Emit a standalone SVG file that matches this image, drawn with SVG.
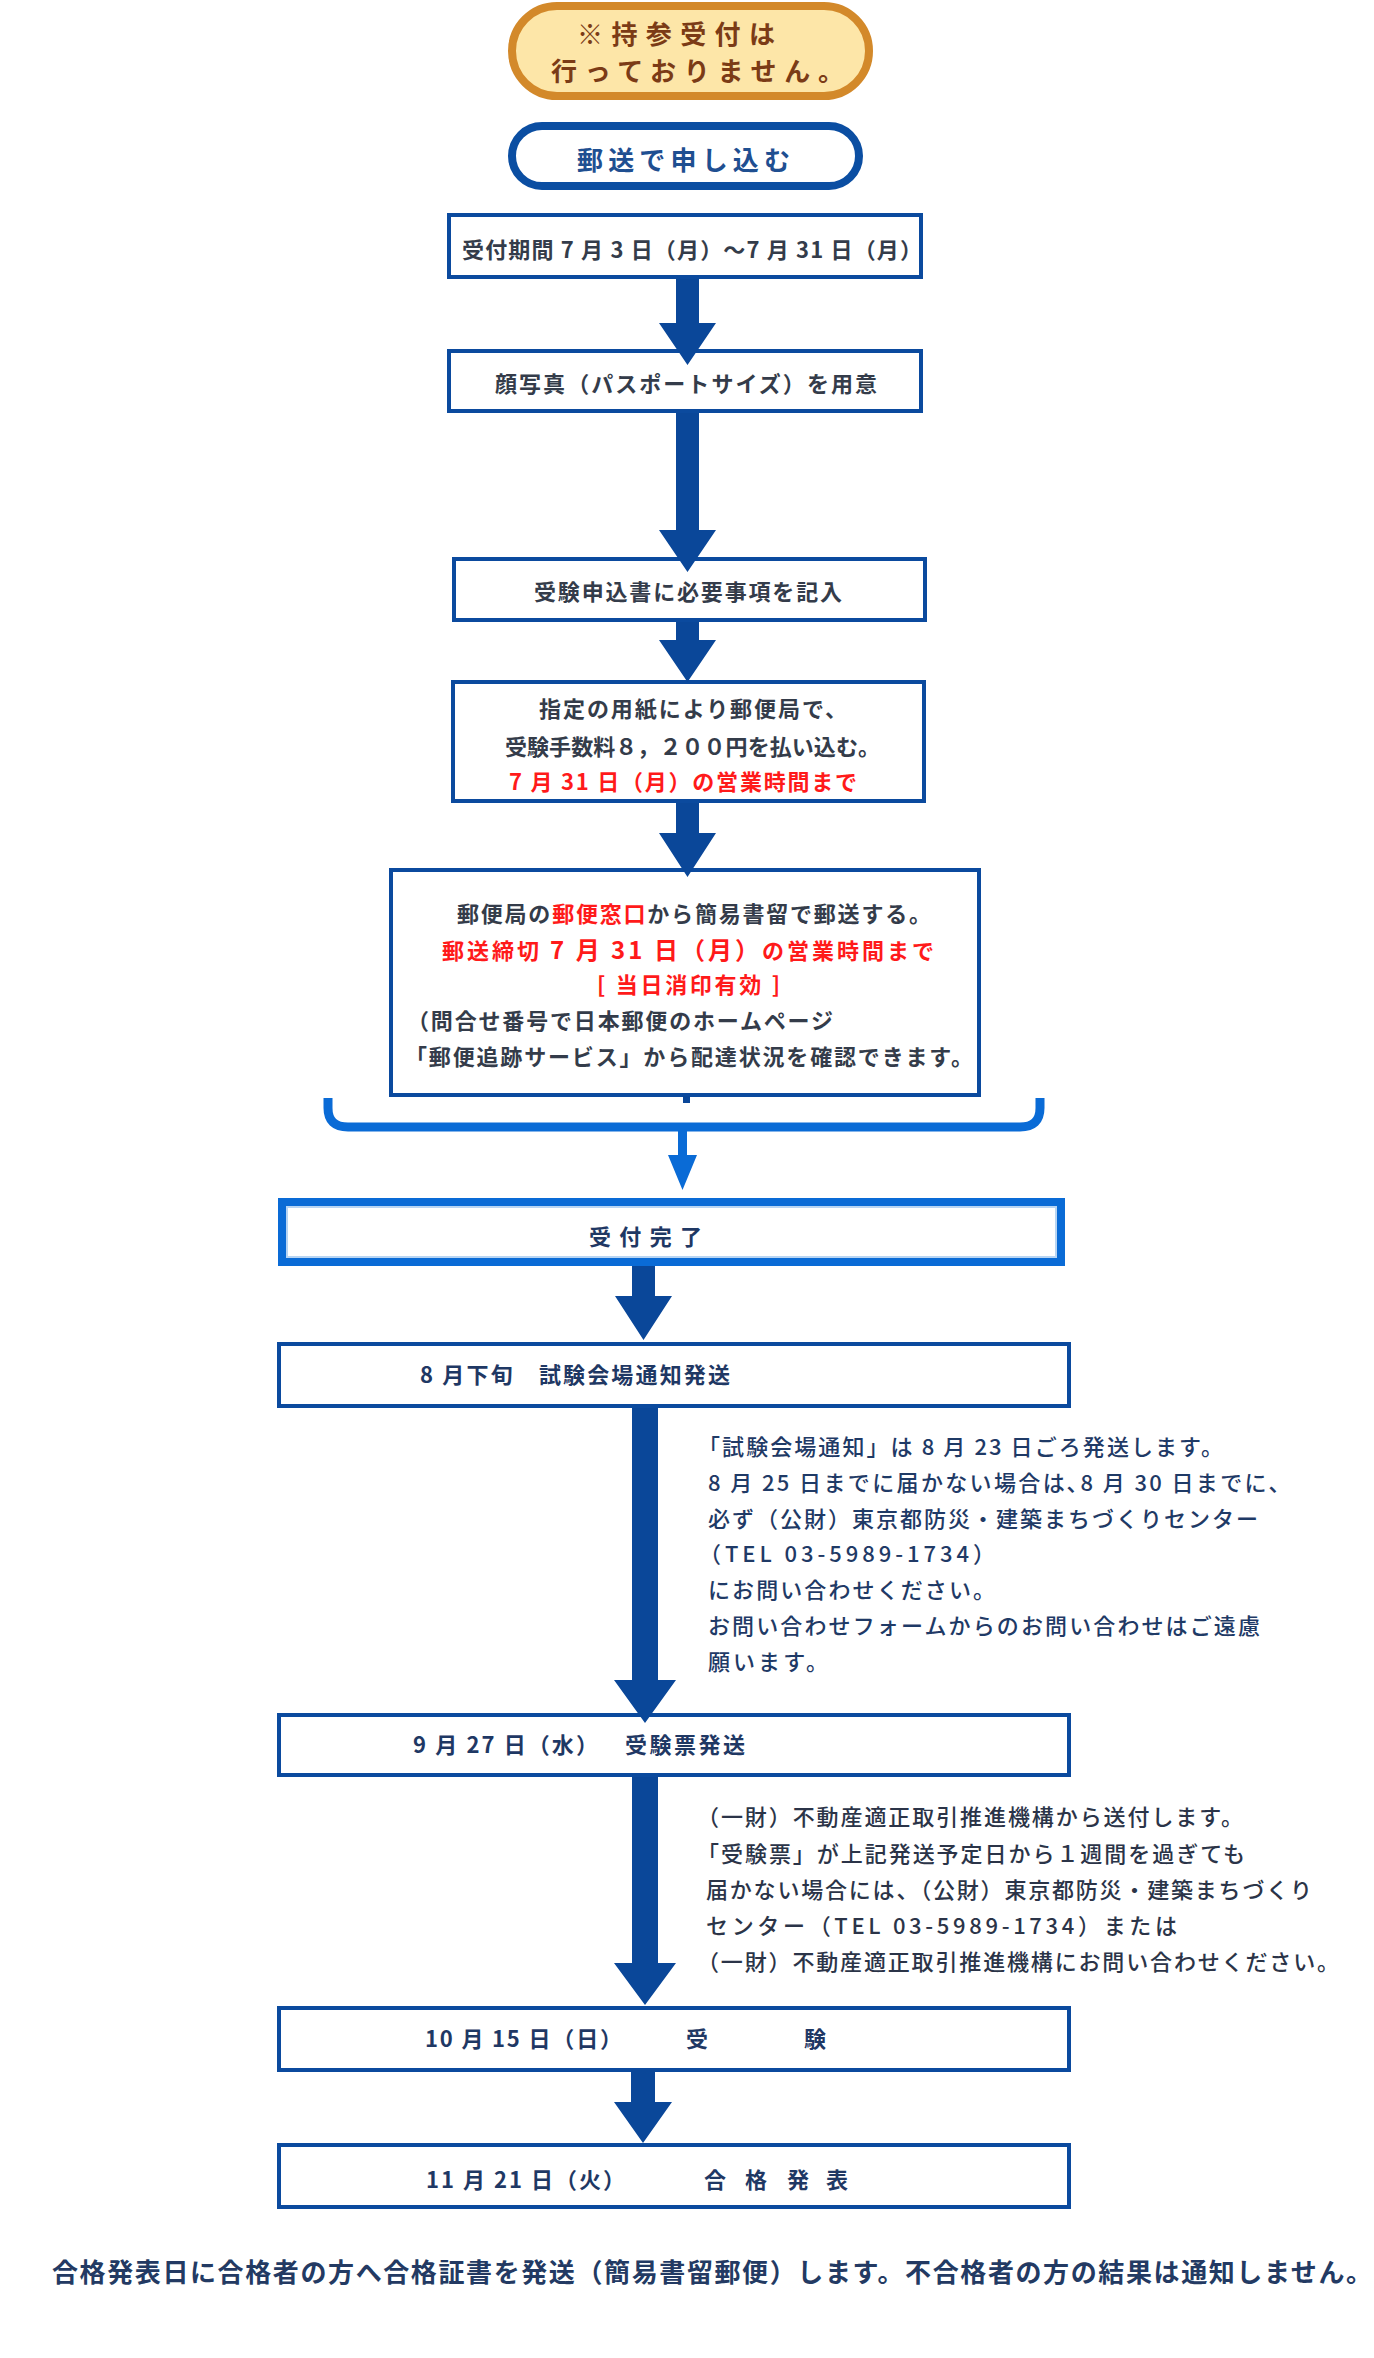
<svg xmlns="http://www.w3.org/2000/svg" width="1374" height="2358" viewBox="0 0 1374 2358">
<style>
text{font-family:"Noto Sans CJK JP","Noto Sans CJK SC",sans-serif;}
.up{font-size:22px;font-weight:bold;fill:#343c4a;}
.red{fill:#ff1a1a;}
.box{fill:#ffffff;stroke:#0b4a9e;stroke-width:4;}
.lo{font-size:22px;font-weight:bold;fill:#1f3864;}
.n1{font-size:22px;font-weight:500;fill:#1f3a66;}
.n2{font-size:22px;font-weight:500;fill:#2b3448;}
.arr{fill:#0a4799;}
.brt{fill:#0a6bd6;}
</style>
<rect width="1374" height="2358" fill="#ffffff"/>
<g id="nodes">
  <g id="notice">
    <rect x="512" y="6" width="357" height="90" rx="45" fill="#fde6a8" stroke="#d3892a" stroke-width="8"/>
    <text x="577" y="44" font-size="26" font-weight="bold" fill="#7b3b16" textLength="198" lengthAdjust="spacing">※持参受付は</text>
    <text x="551" y="81" font-size="26" font-weight="bold" fill="#7b3b16" textLength="293" lengthAdjust="spacing">行っておりません。</text>
  </g>
  <g id="mail">
    <rect x="512" y="126" width="347" height="60" rx="30" fill="#ffffff" stroke="#0b4ea2" stroke-width="8"/>
    <text x="577" y="170" font-size="26" font-weight="bold" fill="#1f4f91" textLength="213" lengthAdjust="spacing">郵送で申し込む</text>
  </g>
  <g id="period">
    <rect class="box" x="449" y="215" width="472" height="62"/>
    <text class="up" x="462" y="258" font-size="21" textLength="460" lengthAdjust="spacing">受付期間 7 月 3 日（月）～7 月 31 日（月）</text>
  </g>
  <g id="photo">
    <rect class="box" x="449" y="351" width="472" height="60"/>
    <text class="up" x="495" y="392" textLength="382" lengthAdjust="spacing">顔写真（パスポートサイズ）を用意</text>
  </g>
  <g id="form">
    <rect class="box" x="454" y="559" width="471" height="61"/>
    <text class="up" x="534" y="600" textLength="308" lengthAdjust="spacing">受験申込書に必要事項を記入</text>
  </g>
  <g id="fee">
    <rect class="box" x="453" y="682" width="471" height="119"/>
    <text class="up" x="539" y="717" textLength="308" lengthAdjust="spacing">指定の用紙により郵便局で、</text>
    <text class="up" x="505" y="755" textLength="375" lengthAdjust="spacing">受験手数料８，２００円を払い込む。</text>
    <text class="up red" x="509" y="790" textLength="348" lengthAdjust="spacing">7 月 31 日（月）の営業時間まで</text>
  </g>
  <g id="post">
    <rect class="box" x="391" y="870" width="588" height="225"/>
    <text class="up" x="457" y="922" textLength="474" lengthAdjust="spacing">郵便局の<tspan class="red">郵便窓口</tspan>から簡易書留で郵送する。</text>
    <text class="up red" x="442" y="959" textLength="492" lengthAdjust="spacing">郵送締切 <tspan font-size="24">7 月 31 日（月）</tspan>の営業時間まで</text>
    <text class="up red" x="597" y="993" textLength="183" lengthAdjust="spacing">[ 当日消印有効 ]</text>
    <text class="up" x="407" y="1029" textLength="426" lengthAdjust="spacing">（問合せ番号で日本郵便のホームページ</text>
    <text class="up" x="405" y="1065" textLength="568" lengthAdjust="spacing">「郵便追跡サービス」から配達状況を確認できます。</text>
  </g>
  <g id="done">
    <rect x="282" y="1202" width="779" height="60" fill="#ffffff" stroke="#0a6bd6" stroke-width="8"/>
    <rect x="287" y="1207" width="769" height="50" fill="none" stroke="#b8d5f3" stroke-width="2"/>
    <text class="lo" x="589" y="1245" font-size="24" textLength="113" lengthAdjust="spacing">受付完了</text>
  </g>
  <g id="venue">
    <rect class="box" x="279" y="1344" width="790" height="62"/>
    <text class="lo" x="420" y="1383" textLength="310" lengthAdjust="spacing">8 月下旬　試験会場通知発送</text>
  </g>
  <g id="ticket">
    <rect class="box" x="279" y="1715" width="790" height="60"/>
    <text class="lo" x="413" y="1753" textLength="185" lengthAdjust="spacing">9 月 27 日（水）</text>
    <text class="lo" x="625" y="1753" textLength="120" lengthAdjust="spacing">受験票発送</text>
  </g>
  <g id="exam">
    <rect class="box" x="279" y="2008" width="790" height="62"/>
    <text class="lo" x="425" y="2047" textLength="197" lengthAdjust="spacing">10 月 15 日（日）</text>
    <text class="lo" x="686 804" y="2047">受験</text>
  </g>
  <g id="result">
    <rect class="box" x="279" y="2145" width="790" height="62"/>
    <text class="lo" x="426" y="2188" textLength="199" lengthAdjust="spacing">11 月 21 日（火）</text>
    <text class="lo" x="704 745 787 826" y="2188">合格発表</text>
  </g>
  <g id="note-venue">
    <text class="n1" x="698" y="1455" textLength="525" lengthAdjust="spacing">「試験会場通知」は 8 月 23 日ごろ発送します。</text>
    <text class="n1" x="708" y="1491" textLength="572" lengthAdjust="spacing">8 月 25 日までに届かない場合は､8 月 30 日までに､</text>
    <text class="n1" x="708" y="1527" textLength="550" lengthAdjust="spacing">必ず（公財）東京都防災・建築まちづくりセンター</text>
    <text class="n1" x="699" y="1562" textLength="296" lengthAdjust="spacing">（TEL 03-5989-1734）</text>
    <text class="n1" x="708" y="1598" textLength="287" lengthAdjust="spacing">にお問い合わせください。</text>
    <text class="n1" x="708" y="1634" textLength="552" lengthAdjust="spacing">お問い合わせフォームからのお問い合わせはご遠慮</text>
    <text class="n1" x="708" y="1670" textLength="120" lengthAdjust="spacing">願います。</text>
  </g>
  <g id="note-ticket">
    <text class="n2" x="697" y="1825" textLength="546" lengthAdjust="spacing">（一財）不動産適正取引推進機構から送付します。</text>
    <text class="n2" x="697" y="1862" textLength="548" lengthAdjust="spacing">「受験票」が上記発送予定日から１週間を過ぎても</text>
    <text class="n2" x="706" y="1898" textLength="606" lengthAdjust="spacing">届かない場合には、（公財）東京都防災・建築まちづくり</text>
    <text class="n2" x="706" y="1934" textLength="471" lengthAdjust="spacing">センター（TEL 03-5989-1734）または</text>
    <text class="n2" x="697" y="1970" textLength="642" lengthAdjust="spacing">（一財）不動産適正取引推進機構にお問い合わせください。</text>
  </g>
  <g id="footer">
    <text x="52" y="2282" font-size="26" font-weight="bold" fill="#233a63" textLength="1320" lengthAdjust="spacing">合格発表日に合格者の方へ合格証書を発送（簡易書留郵便）します。不合格者の方の結果は通知しません。</text>
  </g>
</g>
<g id="connectors">
  <path class="arr" d="M676 279 H699 V323 H716 L687.5 365 L659 323 H676 Z"/>
  <path class="arr" d="M676 413 H699 V530 H716 L687.5 572 L659 530 H676 Z"/>
  <path class="arr" d="M676 622 H699 V640 H716 L687.5 682 L659 640 H676 Z"/>
  <path class="arr" d="M676 803 H699 V833 H716 L687.5 877 L659 833 H676 Z"/>
  <rect class="arr" x="683" y="1096" width="7" height="7"/>
  <path d="M328 1098 V1108 Q328 1127 348 1127 H1020 Q1040 1127 1040 1108 V1098" fill="none" stroke="#0a6bd6" stroke-width="9"/>
  <path class="brt" d="M678 1130 H687 V1155 H697 L682.5 1190 L668 1155 H678 Z"/>
  <path class="arr" d="M632 1266 H655 V1296 H672 L643.5 1340 L615 1296 H632 Z"/>
  <path class="arr" d="M632 1408 H658 V1680 H676 L645 1723 L614 1680 H632 Z"/>
  <path class="arr" d="M632 1777 H658 V1963 H676 L645 2005 L614 1963 H632 Z"/>
  <path class="arr" d="M631 2070 H655 V2102 H672 L643 2143 L614 2102 H631 Z"/>
</g>
</svg>
